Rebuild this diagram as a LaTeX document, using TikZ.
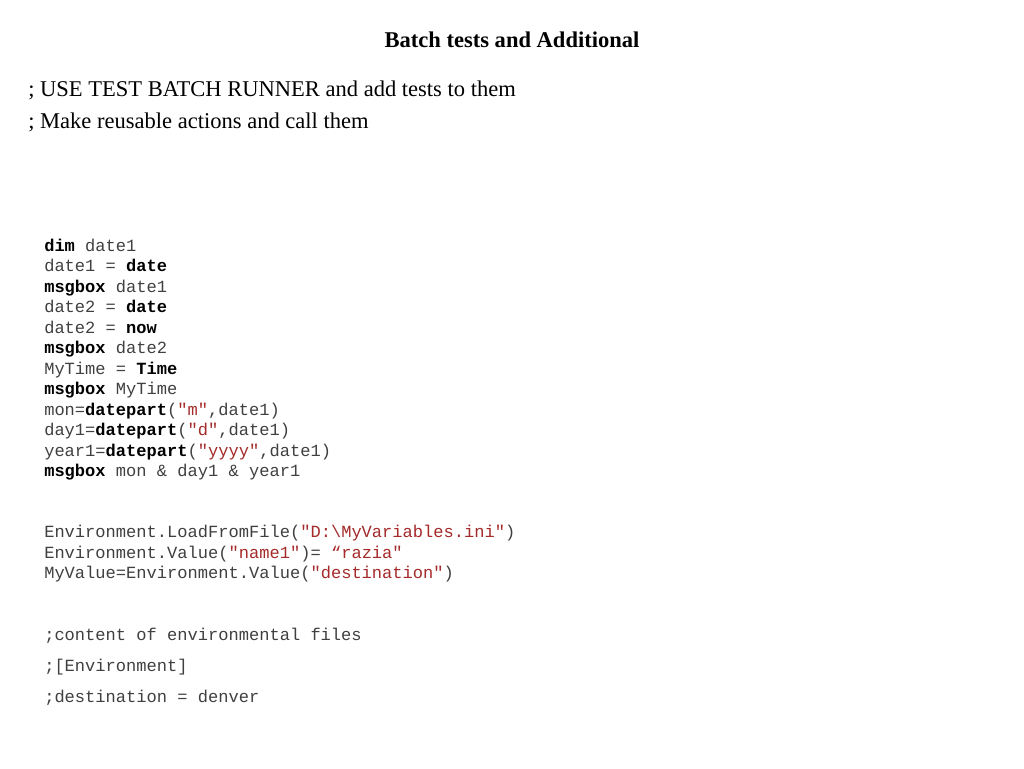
\documentclass[tikz,border=0pt]{standalone}
\usepackage{fontspec}
\setmainfont{Liberation Serif}
\setmonofont{Liberation Mono}
\usetikzlibrary{positioning}
\definecolor{CodeGray}{HTML}{404040}
\definecolor{StrRed}{HTML}{A52A2A}
\newcommand{\kw}[1]{\textbf{\color{black}#1}}
\newcommand{\strlit}[1]{\textcolor{StrRed}{#1}}
\tikzset{
    slidetitle/.style = {font=\fontsize{16.9}{20}\selectfont\bfseries,
        inner sep=0pt, anchor=base},
    note/.style = {font=\fontsize{16.9}{20}\selectfont, inner sep=0pt, anchor=base west},
    codeline/.style = {font=\fontsize{12.8}{15}\selectfont\ttfamily, text=CodeGray,
        inner sep=0pt, anchor=base west}
}

\begin{document}
\begin{tikzpicture}[x=0.75pt, y=-0.75pt]
    \fill[white] (0,0) rectangle (1024,768);
    \useasboundingbox (0,0) rectangle (1024,768);
    \node [slidetitle] (title) at (512,47) {Batch tests and Additional};
    \node [note] (note1) at (28,96) {; USE TEST BATCH RUNNER and add tests to them};
    \node [note] (note2) at (28,128) {; Make reusable actions and call them};
    % date functions
    \foreach \line [count=\i] in {
        {\kw{dim} date1},
        {date1 = \kw{date}},
        {\kw{msgbox} date1},
        {date2 = \kw{date}},
        {date2 = \kw{now}},
        {\kw{msgbox} date2},
        {MyTime = \kw{Time}},
        {\kw{msgbox} MyTime},
        {mon=\kw{datepart}(\strlit{"m"},date1)},
        {day1=\kw{datepart}(\strlit{"d"},date1)},
        {year1=\kw{datepart}(\strlit{"yyyy"},date1)},
        {\kw{msgbox} mon \& day1 \& year1}}{
        \node [codeline] (date\i) at (44,{251+20.5*(\i-1)}) {\line};
    }
    % environment
    \foreach \line [count=\i] in {
        {Environment.LoadFromFile(\strlit{"D:\textbackslash MyVariables.ini"})},
        {Environment.Value(\strlit{"name1"})= \strlit{“razia"}},
        {MyValue=Environment.Value(\strlit{"destination"})}}{
        \node [codeline] (env\i) at (44,{537.5+20.5*(\i-1)}) {\line};
    }
    \foreach \line [count=\i] in {
        {;content of environmental files},
        {;[Environment]},
        {;destination = denver}}{
        \node [codeline] (ini\i) at (44,{640+31*(\i-1)}) {\line};
    }
\end{tikzpicture}
\end{document}
